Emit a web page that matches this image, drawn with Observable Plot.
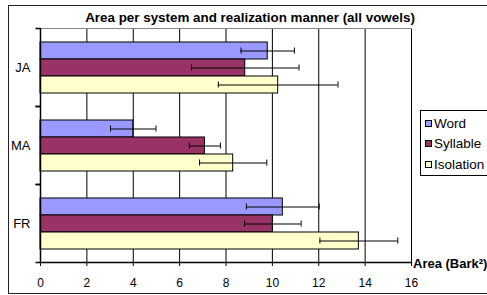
<!DOCTYPE html>
<html>
<head>
<meta charset="utf-8">
<script src="https://cdn.jsdelivr.net/npm/d3@7"></script>
<script src="https://cdn.jsdelivr.net/npm/@observablehq/plot@0.6"></script>
<style>
  html, body { margin: 0; padding: 0; background: #fff; overflow: hidden; }
  #wrap { position: relative; width: 487px; height: 295px; font-family: "Liberation Sans", Arial, sans-serif; color: #000; }
  #border { position: absolute; left: 8px; top: 5px; width: 520px; height: 287px; border: 1px solid #222; }
  #title { position: absolute; left: 250px; top: 10px; transform: translateX(-50%); white-space: nowrap; font-weight: bold; font-size: 13.4px; }
  #xlabel { position: absolute; left: 413px; top: 256px; white-space: nowrap; font-weight: bold; font-size: 13px; }
  #legend { position: absolute; left: 420px; top: 110px; width: 70px; height: 64px; border: 1px solid #000; background: #fff; font-size: 13.5px; }
  .item { position: absolute; left: 4px; white-space: nowrap; line-height: 16px; }
  .sw { display: inline-block; width: 5px; height: 5px; border: 1px solid #000; margin-right: 2px; vertical-align: 1px; }
  #chart { position: absolute; left: 0; top: 0; }
</style>
</head>
<body>
<div id="wrap">
  <div id="border"></div>
  <div id="chart"></div>
  <div id="title"></div>
  <div id="xlabel"></div>
  <div id="legend"></div>
</div>
<script>
const titleText = "Area per system and realization manner (all vowels)";
const xLabelText = "Area (Bark²)";
const systems = ["JA", "MA", "FR"];
const manners = ["Word", "Syllable", "Isolation"];
const mannerColors = ["#9999FF", "#993366", "#FFFFCC"];
const wordArea = [9.8, 4.0, 10.45];
const wordErr = [1.15, 0.98, 1.57];
const syllableArea = [8.83, 7.09, 10.02];
const syllableErr = [2.32, 0.67, 1.22];
const isolationArea = [10.25, 8.31, 13.73];
const isolationErr = [2.58, 1.45, 1.68];
const xTicks = [0, 2, 4, 6, 8, 10, 12, 14, 16];

const seriesVals = {Word: [wordArea, wordErr], Syllable: [syllableArea, syllableErr], Isolation: [isolationArea, isolationErr]};
const rows = [];
systems.forEach((s, i) => {
  manners.forEach(m => {
    const [v, e] = seriesVals[m];
    rows.push({system: s, manner: m, value: v[i], err: e[i]});
  });
});

document.getElementById("title").textContent = titleText;
document.getElementById("xlabel").textContent = xLabelText;
const legend = document.getElementById("legend");
manners.forEach((m, i) => {
  const d = document.createElement("div");
  d.className = "item";
  d.style.top = (4.5 + i * 20.5) + "px";
  const sw = document.createElement("span");
  sw.className = "sw";
  sw.style.background = mannerColors[i];
  d.appendChild(sw);
  d.appendChild(document.createTextNode(m));
  legend.appendChild(d);
});

const tickSym = {draw(ctx) { ctx.moveTo(-5, 0); ctx.lineTo(0, 0); }};

const chart = Plot.plot({
  width: 487,
  height: 295,
  marginLeft: 40,
  marginRight: 76,
  marginTop: 28,
  marginBottom: 33,
  style: {background: "transparent", fontFamily: "Liberation Sans, Arial, sans-serif", fontSize: "12px", color: "#000"},
  x: {domain: [0, 16]},
  y: {domain: manners, paddingInner: 0, paddingOuter: 0.79, axis: null},
  fy: {domain: systems, padding: 0},
  color: {domain: manners, range: mannerColors},
  marks: [
    Plot.ruleX(xTicks.slice(1), {x: d => d, stroke: "#000", strokeWidth: 1}),
    Plot.frame({anchor: "top", facet: "super", stroke: "#888"}),
    Plot.barX(rows, {x: "value", y: "manner", fy: "system", fill: "manner", stroke: "#000", strokeWidth: 1}),
    Plot.ruleY(rows, {x1: d => d.value - d.err, x2: d => d.value + d.err, y: "manner", fy: "system", stroke: "#000", strokeWidth: 1}),
    Plot.tickX(rows, {x: d => d.value - d.err, y: "manner", fy: "system", stroke: "#000", insetTop: 5.5, insetBottom: 5.5}),
    Plot.tickX(rows, {x: d => d.value + d.err, y: "manner", fy: "system", stroke: "#000", insetTop: 5.5, insetBottom: 5.5}),
    Plot.ruleX([0], {stroke: "#000", strokeWidth: 1.5}),
    Plot.frame({anchor: "bottom", facet: "super", stroke: "#000", strokeWidth: 1.5}),
    Plot.dot([0], {frameAnchor: "top-left", symbol: tickSym, stroke: "#000", fill: "none", r: 5}),
    Plot.dot([0], {frameAnchor: "bottom-left", symbol: tickSym, stroke: "#000", fill: "none", r: 5}),
    Plot.axisX({ticks: xTicks, tickSize: 4, tickPadding: 12, label: null, fontSize: 12, stroke: "#000"}),
    Plot.axisFy({anchor: "left", tickSize: 0, tickPadding: 10, label: null, fontSize: 13})
  ]
});
document.getElementById("chart").appendChild(chart);
</script>
</body>
</html>
